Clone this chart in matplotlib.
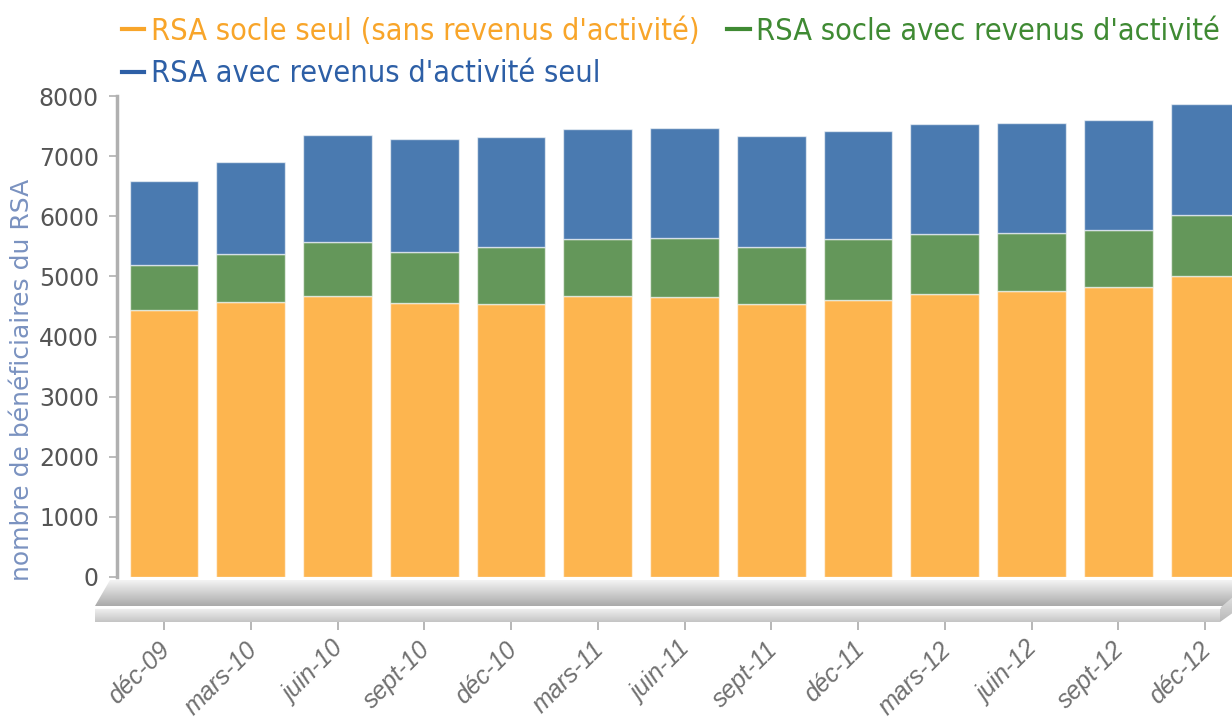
import matplotlib
matplotlib.use("Agg")
import matplotlib.pyplot as plt
import matplotlib.transforms as mtransforms
import numpy as np
from matplotlib.patches import Polygon
from matplotlib.lines import Line2D

categories = ["déc-09", "mars-10", "juin-10", "sept-10", "déc-10", "mars-11", "juin-11",
              "sept-11", "déc-11", "mars-12", "juin-12", "sept-12", "déc-12"]
socle_seul = [4440, 4570, 4670, 4550, 4540, 4670, 4650, 4540, 4610, 4710, 4750, 4820, 5010]
socle_avec = [750, 800, 900, 860, 950, 950, 980, 950, 1010, 1000, 970, 950, 1010]
activite_seul = [1400, 1530, 1780, 1880, 1830, 1830, 1840, 1850, 1790, 1820, 1830, 1830, 1850]
series_names = ["RSA socle seul (sans revenus d'activité)",
                "RSA socle avec revenus d'activité",
                "RSA avec revenus d'activité seul"]
yticks = [0, 1000, 2000, 3000, 4000, 5000, 6000, 7000, 8000]

c_orange = "#FDB54F"
c_green = "#64975A"
c_blue = "#4A7AB0"
t_orange = "#F8A52A"
t_green = "#3F8A33"
t_blue = "#2D5FA6"

W, H = 1232, 722
fig = plt.figure(figsize=(W / 100, H / 100), dpi=100)

# Background overlay in pixel coordinates for the 3D floor
bg = fig.add_axes([0, 0, 1, 1], zorder=0)
bg.set_xlim(0, W)
bg.set_ylim(H, 0)
bg.axis("off")

def grad_poly(ax, pts, top_col, bot_col, y0, y1):
    poly = Polygon(pts, closed=True, facecolor="none", edgecolor="none")
    ax.add_patch(poly)
    g = np.linspace(0, 1, 100).reshape(-1, 1)
    tc = np.array(matplotlib.colors.to_rgb(top_col))
    bc = np.array(matplotlib.colors.to_rgb(bot_col))
    img = tc[None, None, :] * (1 - g[:, :, None]) + bc[None, None, :] * g[:, :, None]
    im = ax.imshow(img, extent=[0, W, y1, y0], aspect="auto", zorder=1)
    im.set_clip_path(poly)

# top face
grad_poly(bg, [(110, 580), (W + 10, 580), (W - 2, 606), (95, 606)], "#f4f4f4", "#aaaaaa", 580, 606)
# front face
grad_poly(bg, [(95, 608), (1220, 608), (1220, 622), (95, 622)], "#f2f2f2", "#c4c4c4", 608, 622)
# right side face
grad_poly(bg, [(1220, 608), (W + 2, 596), (W + 2, 612), (1220, 622)], "#e0e0e0", "#b8b8b8", 596, 622)
bg.plot([95, 1220], [607.5, 607.5], color="white", lw=1.2, zorder=2)

# Main axes
left_px, top_px, bot_px = 117, 96, 577
ax = fig.add_axes([left_px / W, (H - bot_px) / H, (W - left_px) / W, (bot_px - top_px) / H], zorder=2)
ax.patch.set_alpha(0)
x = np.arange(len(categories))
bw = 0.79
ec = (1, 1, 1, 0.6)
ax.bar(x, socle_seul, bw, color=c_orange, edgecolor=ec, linewidth=1.0)
bottom2 = np.array(socle_seul)
ax.bar(x, socle_avec, bw, bottom=bottom2, color=c_green, edgecolor=ec, linewidth=1.0)
bottom3 = bottom2 + np.array(socle_avec)
ax.bar(x, activite_seul, bw, bottom=bottom3, color=c_blue, edgecolor=ec, linewidth=1.0)

step = 86.75
for s in ["top", "right"]:
    ax.spines[s].set_visible(False)
ax.spines["bottom"].set_position(("outward", 45 * 0.72))
ax.spines["bottom"].set_visible(False)
ax.spines["left"].set_color("#b0b0b0")
ax.spines["left"].set_linewidth(2.5)

ax.set_xlim(-(164 - left_px) / step, (W - 164) / step)
ax.set_ylim(0, 8000)
ax.spines["left"].set_bounds(0, 8000)
ax.set_yticks(yticks)
ax.set_yticklabels([str(v) for v in yticks], fontsize=17, color="#555555")
ax.set_xticks(x)
ax.set_xticklabels(categories, rotation=45, ha="right", va="top", rotation_mode="anchor",
                   fontsize=18, color="#707070", fontstyle="italic", family="Liberation Sans")
ax.tick_params(axis="y", length=6, width=1.2, color="#b0b0b0", pad=7)
ax.tick_params(axis="x", length=6, width=1.2, color="#aaaaaa", pad=5)
offset = mtransforms.ScaledTranslation(-6 / 100, 0, fig.dpi_scale_trans)
for lbl in ax.get_xticklabels():
    lbl.set_transform(lbl.get_transform() + offset)
ax.set_ylabel("nombre de bénéficiaires du RSA", fontsize=18, color="#7a92c0")
ax.yaxis.set_label_coords(-0.074, (577 - 380) / 481)

# Legend
handles = [Line2D([0], [0], color=t_orange, lw=3),
           Line2D([0], [0], color=t_green, lw=3),
           Line2D([0], [0], color=t_blue, lw=3)]
order = [0, 2, 1]
leg = fig.legend([handles[i] for i in order], [series_names[i] for i in order],
                 ncol=2, loc="upper left", bbox_to_anchor=(94 / W, 1 + 11 / H),
                 frameon=False, handlelength=0.75, handletextpad=0.22,
                 columnspacing=0.88, labelspacing=0.45,
                 prop={"family": "DejaVu Sans", "stretch": "condensed", "size": 22},
                 labelcolor=[t_orange, t_blue, t_green])

fig.savefig("out.png", dpi=100)
